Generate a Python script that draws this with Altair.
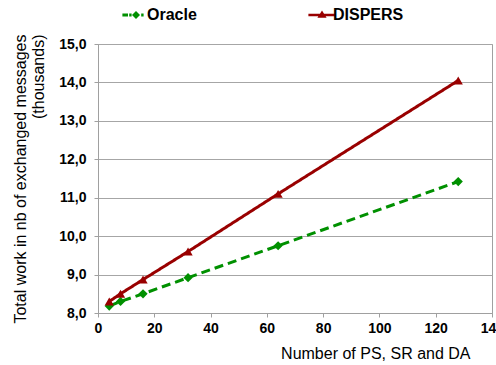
import altair as alt
import pandas as pd

x_vals = [4, 8, 16, 32, 64, 128]
oracle = [8.18, 8.30, 8.50, 8.92, 9.75, 11.42]
dispers = [8.30, 8.50, 8.87, 9.60, 11.10, 14.05]
series_names = ["Oracle", "DISPERS"]
colors = ["#009000", "#990000"]

rows = []
for name, vals in zip(series_names, [oracle, dispers]):
    for xv, yv in zip(x_vals, vals):
        rows.append({"n": xv, "work": yv, "series": name, "legend_series": name})
df = pd.DataFrame(rows)

color_scale = alt.Scale(domain=series_names, range=colors)

oracle_sym = ("M-3.4,-0.38H-2.0V0.38H-3.4Z M-1.7,-0.38H-1.1V0.38H-1.7Z "
              "M0,-1L1,0L0,1L-1,0Z M1.3,-0.38H1.9V0.38H1.3Z")
dispers_sym = "M-3.4,-0.3H3.4V0.3H-3.4Z M0,-1.1L1.15,0.7L-1.15,0.7Z"

x_enc = alt.X("n:Q", scale=alt.Scale(domain=[0, 140]),
              axis=alt.Axis(values=list(range(0, 141, 20)), title="Number of PS, SR and DA",
                            grid=False, labelFlush=False, titleAlign="right", titleX=372, titleY=45,
                            titleBaseline="alphabetic", titleAnchor="start"))
y_enc = alt.Y("work:Q", scale=alt.Scale(domain=[8, 15]),
              axis=alt.Axis(values=[8, 9, 10, 11, 12, 13, 14, 15],
                            labelExpr="replace(format(datum.value, '.1f'), '.', ',')",
                            title=["Total work in nb of exchanged messages", "(thousands)"],
                            titleAngle=270, titleAlign="right", titleBaseline="top",
                            titleX=-86, titleY=-10, titleLineHeight=18, titleAnchor="start",
                            labelPadding=8, labelFlush=False))

base = alt.Chart(df).encode(x=x_enc, y=y_enc)

line = base.mark_line(strokeWidth=3).encode(
    color=alt.Color("series:N", scale=color_scale, legend=None),
    strokeDash=alt.StrokeDash("series:N", scale=alt.Scale(domain=series_names, range=[[9, 5], [1, 0]]),
                              legend=None),
)

points = base.mark_point(filled=True, size=85, opacity=1).encode(
    color=alt.Color("series:N", scale=color_scale, legend=None),
    shape=alt.Shape("series:N", scale=alt.Scale(domain=series_names, range=["diamond", "triangle-up"]),
                    legend=None),
)

leg = alt.Legend(orient="none", legendX=30, legendY=-37, direction="horizontal",
                 columns=2, columnPadding=111, title=None,
                 labelFontSize=16, labelFontWeight="bold", labelColor="black",
                 labelFont="Liberation Sans", labelOffset=3,
                 symbolOpacity=1, symbolSize=64, symbolStrokeWidth=0, padding=0)

legend_layer = base.mark_point(filled=True, size=64, opacity=0).encode(
    color=alt.Color("legend_series:N", scale=alt.Scale(domain=series_names, range=colors), legend=leg),
    shape=alt.Shape("legend_series:N", scale=alt.Scale(domain=series_names, range=[oracle_sym, dispers_sym]),
                    legend=leg),
)

chart = alt.layer(line, points, legend_layer).resolve_scale(
    color="independent", shape="independent"
).resolve_legend(color="independent", shape="independent").properties(
    width=394, height=269,
    autosize=alt.AutoSizeParams(type="none"),
    padding={"left": 98, "top": 44, "right": 4, "bottom": 52},
    background="white",
).configure_view(stroke="#a0a0a0", strokeWidth=1).configure_axis(
    labelFont="Liberation Sans", titleFont="Liberation Sans",
    labelFontSize=14, labelFontWeight="bold", labelColor="black",
    titleFontSize=16, titleFontWeight="normal", titleColor="black",
    domainColor="#a0a0a0", tickColor="#a0a0a0", gridColor="#a6a6a6",
    tickSize=4, labelPadding=4,
)

chart.save("out.html", embed_options={"renderer": "svg", "actions": False})
